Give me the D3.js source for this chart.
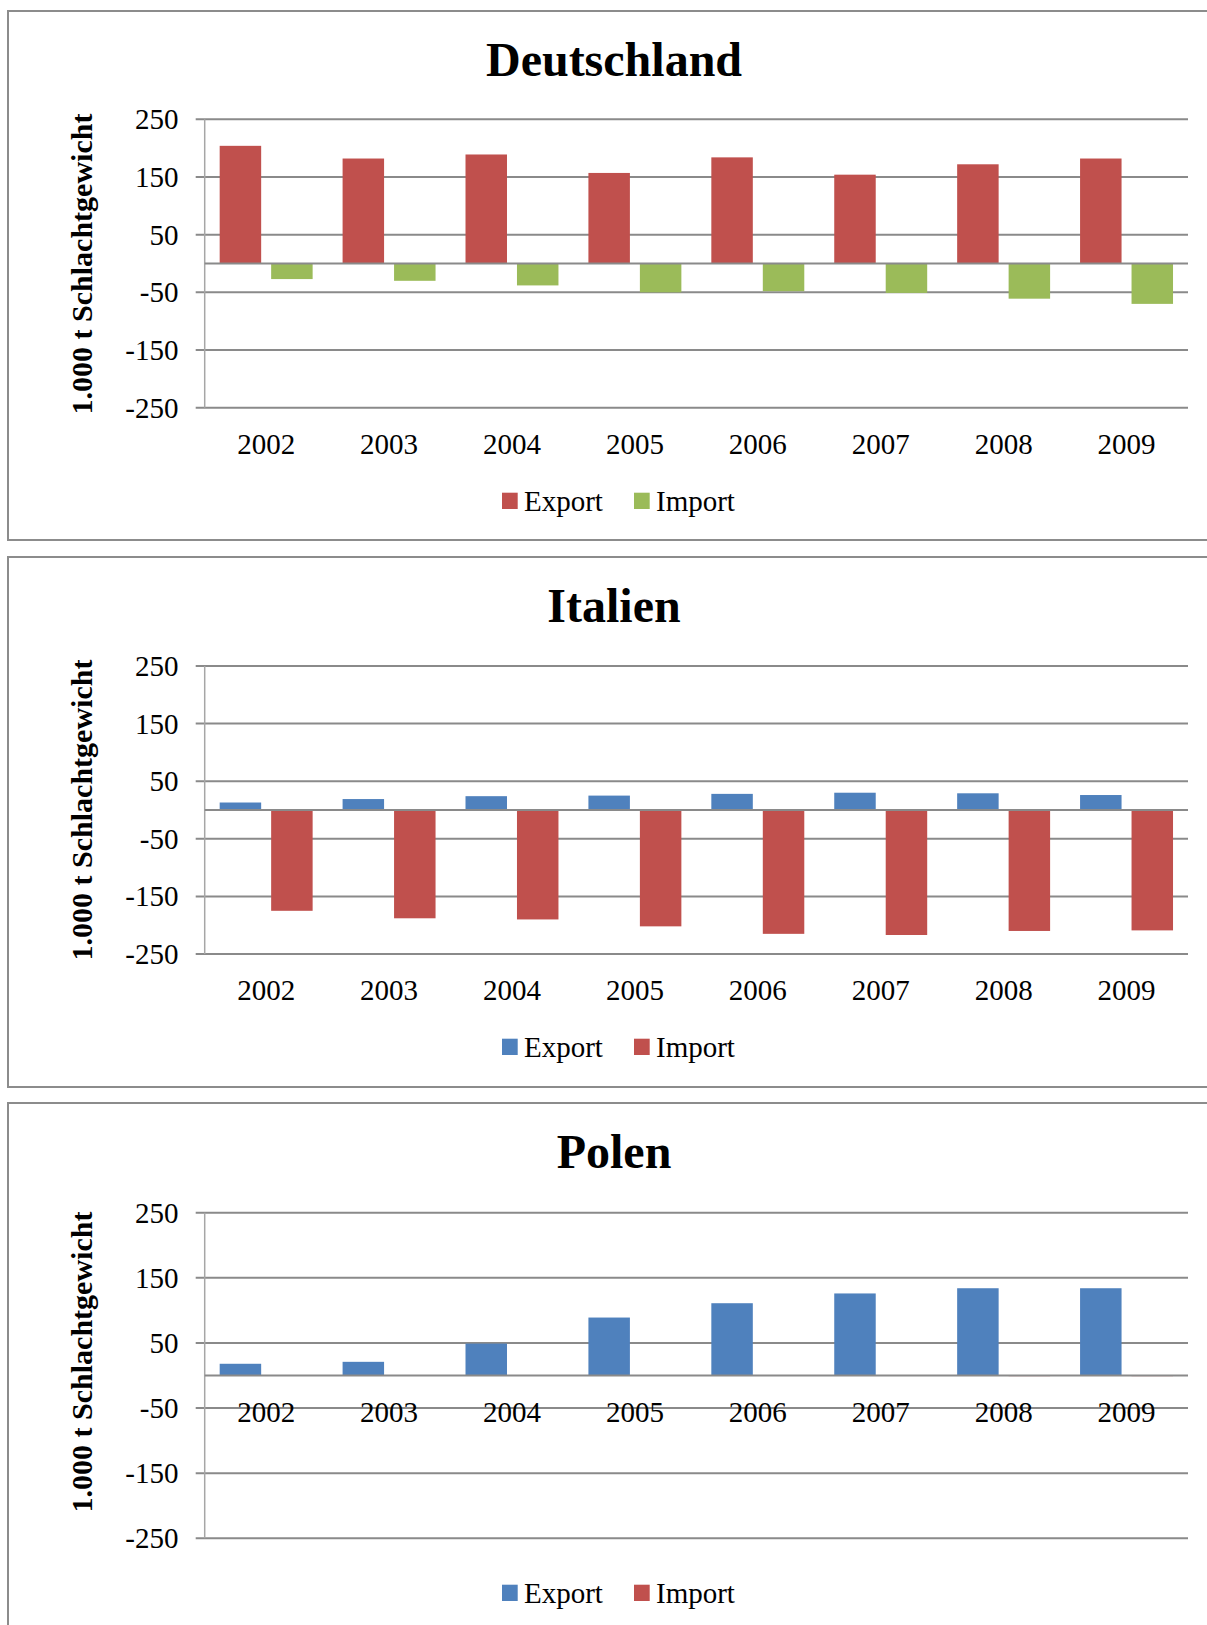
<!DOCTYPE html>
<html>
<head>
<meta charset="utf-8">
<script src="https://cdn.jsdelivr.net/npm/d3@7/dist/d3.min.js"></script>
<style>
  html, body { margin: 0; padding: 0; background: #ffffff; }
  svg { display: block; }
  text { font-family: "Liberation Serif", "Times New Roman", serif; fill: #000; }
</style>
</head>
<body>
<svg id="chart" width="1207" height="1625"></svg>
<script>
// ---- data ----
const years = ["2002", "2003", "2004", "2005", "2006", "2007", "2008", "2009"];
const seriesNames = ["Export", "Import"];
const yTicks = [250, 150, 50, -50, -150, -250];
const yDomain = [-250, 250];

const deExport = [204, 182, 189, 157, 184, 154, 172, 182];
const deImport = [-27, -30, -38, -50, -48, -51, -61, -70];

const itExport = [13, 19, 24, 25, 28, 30, 29, 26];
const itImport = [-175, -188, -190, -202, -215, -217, -210, -209];

const plExport = [18, 21, 49, 89, 111, 126, 134, 134];
const plImport = [0, 0, 0, 0, 0, 0, -1, -1];

const panelTitles = ["Deutschland", "Italien", "Polen"];
const yAxisTitle = "1.000 t Schlachtgewicht";

// ---- styles / layout ----
const RED = "#C0504D", GREEN = "#9BBB59", BLUE = "#4F81BD";
const GRID = "#8a8a8a", AXIS = "#a6a6a6", BORDER = "#8c8c8c";
const plotLeft = 204.7, plotRight = 1188;

const panels = [
  { title: panelTitles[0], exp: deExport, imp: deImport, colors: [RED, GREEN],
    top: 11, bottom: 540, plotTop: 119.3, plotBottom: 407.7, labelsAtZero: false, yTitleC: 264 },
  { title: panelTitles[1], exp: itExport, imp: itImport, colors: [BLUE, RED],
    top: 557, bottom: 1087, plotTop: 666, plotBottom: 954, labelsAtZero: false, yTitleC: 810 },
  { title: panelTitles[2], exp: plExport, imp: plImport, colors: [BLUE, RED],
    top: 1103, bottom: 1633, plotTop: 1212.7, plotBottom: 1538.3, labelsAtZero: true, yTitleC: 1362 }
];

const svg = d3.select("#chart");

const x0 = d3.scaleBand().domain(years).range([plotLeft, plotRight]).paddingInner(0).paddingOuter(0);
const x1 = d3.scaleBand().domain(seriesNames).range([0, x0.bandwidth()])
  .paddingInner(0.194).paddingOuter(0.291);

panels.forEach(p => {
  const g = svg.append("g");

  g.append("rect")
    .attr("x", 8).attr("y", p.top)
    .attr("width", 1300).attr("height", p.bottom - p.top)
    .attr("fill", "none").attr("stroke", BORDER).attr("stroke-width", 2);

  g.append("text")
    .attr("x", 614).attr("y", p.top + 64.5)
    .attr("text-anchor", "middle")
    .attr("font-size", 48).attr("font-weight", "bold")
    .text(p.title);

  const y = d3.scaleLinear().domain(yDomain).range([p.plotBottom, p.plotTop]);

  g.append("g").selectAll("line").data(yTicks).join("line")
    .attr("x1", plotLeft - 9).attr("x2", plotRight)
    .attr("y1", d => y(d)).attr("y2", d => y(d))
    .attr("stroke", GRID).attr("stroke-width", 2);

  g.append("g").selectAll("text").data(yTicks).join("text")
    .attr("x", 178.5).attr("y", d => y(d) + 10)
    .attr("text-anchor", "end")
    .attr("font-size", 29)
    .text(d => String(d));

  g.append("line")
    .attr("x1", plotLeft).attr("x2", plotLeft)
    .attr("y1", p.plotTop).attr("y2", p.plotBottom)
    .attr("stroke", AXIS).attr("stroke-width", 1.5);

  const rows = years.map((yr, i) => ({ year: yr, values: [p.exp[i], p.imp[i]] }));
  const grp = g.append("g").selectAll("g").data(rows).join("g")
    .attr("transform", d => `translate(${x0(d.year)},0)`);
  grp.selectAll("rect").data(d => d.values.map((v, k) => ({ key: seriesNames[k], v, k })))
    .join("rect")
    .attr("x", d => x1(d.key))
    .attr("width", x1.bandwidth())
    .attr("y", d => Math.min(y(0), y(d.v)))
    .attr("height", d => Math.abs(y(d.v) - y(0)))
    .attr("fill", d => p.colors[d.k]);

  g.append("line")
    .attr("x1", plotLeft).attr("x2", plotRight)
    .attr("y1", y(0)).attr("y2", y(0))
    .attr("stroke", GRID).attr("stroke-width", 2);

  const labelRef = p.labelsAtZero ? y(0) : y(yDomain[0]);
  g.append("g").selectAll("text").data(years).join("text")
    .attr("x", d => x0(d) + x0.bandwidth() / 2)
    .attr("y", labelRef + 46.3)
    .attr("text-anchor", "middle")
    .attr("font-size", 29)
    .text(d => d);

  g.append("text")
    .attr("transform", `translate(92,${p.yTitleC}) rotate(-90)`)
    .attr("text-anchor", "middle")
    .attr("font-size", 30).attr("font-weight", "bold")
    .text(yAxisTitle);

  const legX = [502, 634];
  const lg = g.append("g").selectAll("g").data(seriesNames).join("g");
  lg.append("rect")
    .attr("x", (d, i) => legX[i]).attr("y", p.top + 481.7)
    .attr("width", 15.7).attr("height", 16.3)
    .attr("fill", (d, i) => p.colors[i]);
  lg.append("text")
    .attr("x", (d, i) => legX[i] + 22).attr("y", p.top + 500)
    .attr("font-size", 29)
    .text(d => d);
});
</script>
</body>
</html>
